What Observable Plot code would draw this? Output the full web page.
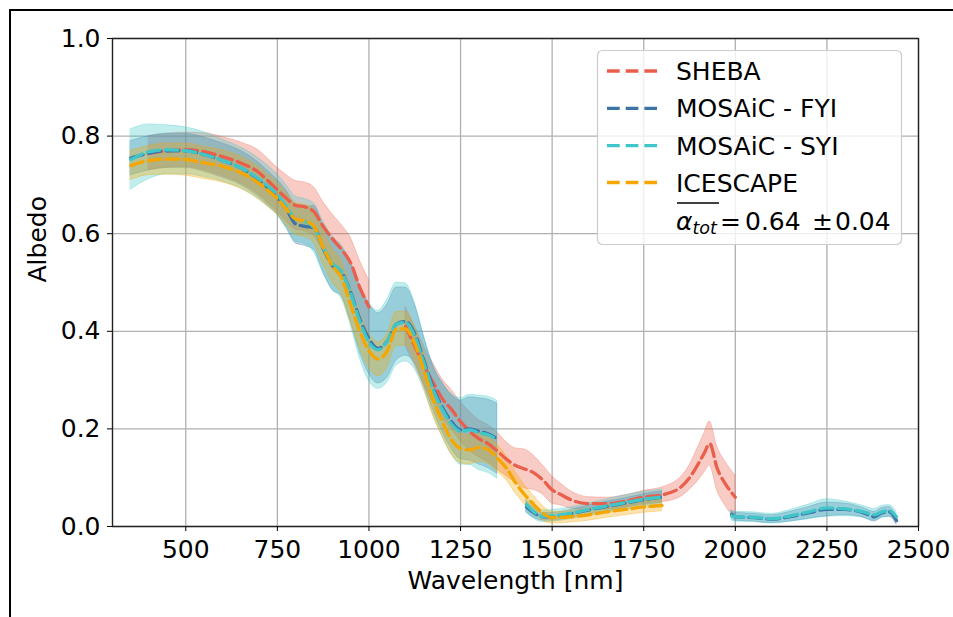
<!DOCTYPE html>
<html><head><meta charset="utf-8">
<script src="https://cdn.jsdelivr.net/npm/d3@7"></script>
<script src="https://cdn.jsdelivr.net/npm/@observablehq/plot@0.6"></script>
<style>
body{margin:0;background:#fff;font-family:"DejaVu Sans",sans-serif;}
#wrap{position:relative;width:953px;height:617px;overflow:hidden;background:#fff;}
#border{position:absolute;left:9px;top:9px;right:-5px;bottom:-5px;border-top:2px solid #000;border-left:2px solid #000;pointer-events:none;}
#legend{position:absolute;left:0;top:0;pointer-events:none;}
</style></head><body>
<div id="wrap"><div id="chart"></div><svg id="legend" width="953" height="617"></svg><div id="border"></div></div>
<script>
// ---- data ----
const xTicks = [500, 750, 1000, 1250, 1500, 1750, 2000, 2250, 2500];
const yTicks = [0, 0.2, 0.4, 0.6, 0.8, 1.0];
const seriesNames = ["SHEBA", "MOSAiC - FYI", "MOSAiC - SYI", "ICESCAPE"];
const seriesColors = ["#ea5f4c", "#3d74a8", "#40c6c8", "#f6a600"];

const shebaWl   = [400,450,500,550,600,650,700,725,750,775,800,825,850,875,900,925,950,975,1000,1050,1100,1125,1150,1175,1200,1225,1250,1275,1300,1325,1350,1375,1400,1425,1450,1475,1500,1525,1550,1600,1650,1700,1750,1800,1825,1850,1875,1900,1915,1930,1950,1975,2000];
const shebaMean = [0.765,0.77,0.772,0.768,0.758,0.745,0.725,0.708,0.69,0.672,0.658,0.655,0.645,0.615,0.59,0.568,0.54,0.49,0.45,null,0.41,0.37,0.33,0.295,0.262,0.24,0.215,0.195,0.18,0.17,0.155,0.138,0.125,0.118,0.11,0.095,0.075,0.065,0.055,0.047,0.047,0.052,0.06,0.065,0.07,0.08,0.1,0.13,0.15,0.17,0.12,0.085,0.06];
const shebaErr  = [0.035,0.035,0.035,0.038,0.04,0.042,0.045,0.045,0.045,0.048,0.05,0.05,0.05,0.05,0.05,0.05,0.052,0.055,0.055,null,0.04,0.04,0.04,0.04,0.04,0.04,0.04,0.04,0.038,0.038,0.038,0.035,0.035,0.04,0.035,0.03,0.028,0.022,0.018,0.013,0.012,0.012,0.013,0.015,0.017,0.02,0.025,0.035,0.04,0.045,0.045,0.045,0.045];

const mosaicWl = [350,400,450,500,550,600,650,700,725,750,775,800,825,850,875,900,925,950,975,1000,1025,1050,1075,1100,1125,1150,1175,1200,1225,1250,1275,1300,1325,1350,1390,1430,1450,1475,1500,1550,1600,1650,1700,1750,1800,1900,1990,2000,2050,2100,2150,2200,2250,2300,2350,2380,2400,2420,2440];
const fyiMean = [0.755,0.765,0.77,0.77,0.762,0.75,0.735,0.71,0.693,0.675,0.65,0.62,0.615,0.612,0.57,0.535,0.522,0.48,0.425,0.385,0.365,0.38,0.415,0.42,0.395,0.34,0.285,0.245,0.215,0.198,0.2,0.195,0.19,0.18,null,0.04,0.028,0.02,0.02,0.026,0.034,0.041,0.048,0.055,0.06,null,0.025,0.02,0.018,0.015,0.02,0.028,0.035,0.035,0.028,0.02,0.028,0.03,0.012];
const fyiErr  = [0.035,0.035,0.035,0.035,0.035,0.035,0.035,0.035,0.035,0.035,0.038,0.04,0.04,0.045,0.048,0.05,0.05,0.06,0.068,0.072,0.072,0.075,0.075,0.07,0.06,0.05,0.045,0.05,0.055,0.06,0.065,0.068,0.07,0.072,null,0.012,0.01,0.008,0.008,0.008,0.009,0.01,0.01,0.011,0.012,null,0.008,0.008,0.008,0.008,0.01,0.012,0.014,0.012,0.01,0.01,0.01,0.01,0.008];
const syiMean = [0.752,0.768,0.772,0.77,0.762,0.75,0.735,0.712,0.697,0.68,0.655,0.63,0.625,0.612,0.572,0.54,0.522,0.478,0.42,0.378,0.362,0.38,0.415,0.418,0.39,0.335,0.28,0.24,0.21,0.195,0.198,0.192,0.188,0.178,null,0.045,0.03,0.021,0.022,0.027,0.035,0.042,0.049,0.056,0.06,null,0.022,0.02,0.019,0.016,0.022,0.03,0.038,0.036,0.03,0.024,0.03,0.032,0.02];
const syiErr  = [0.062,0.056,0.05,0.048,0.046,0.043,0.042,0.042,0.042,0.042,0.044,0.046,0.046,0.05,0.053,0.055,0.055,0.065,0.075,0.08,0.08,0.085,0.085,0.08,0.068,0.055,0.05,0.055,0.062,0.068,0.072,0.076,0.078,0.08,null,0.016,0.014,0.012,0.012,0.012,0.013,0.014,0.015,0.015,0.016,null,0.01,0.01,0.01,0.01,0.012,0.015,0.018,0.015,0.012,0.012,0.012,0.012,0.01];

const icescapeWl   = [350,400,450,500,550,600,650,700,725,750,775,800,825,850,875,900,925,950,975,1000,1025,1050,1075,1100,1125,1150,1175,1200,1225,1250,1275,1300,1325,1350,1375,1400,1425,1450,1475,1500,1550,1600,1650,1700,1750,1800];
const icescapeMean = [0.74,0.75,0.753,0.752,0.745,0.738,0.725,0.703,0.688,0.672,0.65,0.63,0.626,0.615,0.572,0.535,0.51,0.455,0.4,0.36,0.343,0.36,0.405,0.405,0.375,0.32,0.26,0.215,0.178,0.16,0.157,0.162,0.158,0.14,0.12,0.09,0.065,0.045,0.027,0.018,0.02,0.024,0.03,0.035,0.04,0.043];
const icescapeErr  = [0.03,0.03,0.032,0.033,0.033,0.033,0.033,0.033,0.033,0.033,0.033,0.033,0.033,0.035,0.035,0.035,0.035,0.035,0.035,0.035,0.035,0.035,0.035,0.035,0.035,0.035,0.033,0.03,0.03,0.03,0.03,0.03,0.03,0.028,0.025,0.022,0.02,0.018,0.015,0.012,0.012,0.012,0.012,0.012,0.012,0.012];

const legendFormula = {sym: "α", sub: "tot", parts: ["=", "0.64", "±", "0.04"]};

// ---- build ----
function rows(wl, mean, err) {
  return wl.map((w, i) => {
    const m = mean[i];
    const ok = m != null;
    return {x: w, y: ok ? m : NaN, lo: ok ? m - err[i] : NaN, hi: ok ? m + err[i] : NaN};
  });
}
const data = [
  rows(shebaWl, shebaMean, shebaErr),
  rows(mosaicWl, fyiMean, fyiErr),
  rows(mosaicWl, syiMean, syiErr),
  rows(icescapeWl, icescapeMean, icescapeErr)
];

const bands = data.map((d, i) => Plot.areaY(d, {x: "x", y1: "lo", y2: "hi", fill: seriesColors[i], fillOpacity: 0.32, stroke: seriesColors[i], strokeOpacity: 0.3, strokeWidth: 1, curve: "monotone-x"}));
const lines = data.map((d, i) => Plot.lineY(d, {x: "x", y: "y", stroke: seriesColors[i], strokeWidth: 3.3, strokeDasharray: "12.6,5.4", curve: "monotone-x"}));

const chart = Plot.plot({
  width: 953, height: 617,
  marginLeft: 112, marginRight: 35, marginTop: 38, marginBottom: 91,
  style: {fontSize: "25px", fontFamily: "DejaVu Sans", color: "black", background: "transparent"},
  x: {domain: [300, 2500]},
  y: {domain: [0, 1]},
  marks: [
    Plot.gridX({ticks: xTicks, stroke: "#b0b0b0", strokeOpacity: 1, strokeWidth: 1.3}),
    Plot.gridY({ticks: yTicks, stroke: "#b0b0b0", strokeOpacity: 1, strokeWidth: 1.3}),
    ...bands,
    ...lines,
    Plot.frame({stroke: "#222", strokeWidth: 1.4}),
    Plot.axisX({ticks: xTicks, tickFormat: d => String(d), tickSize: 5, tickPadding: 9, label: null, fontSize: 25}),
    Plot.axisY({ticks: yTicks, tickFormat: d3.format(".1f"), tickSize: 5, tickPadding: 7, label: null, fontSize: 25}),
    Plot.text(["Wavelength [nm]"], {text: d => d, frameAnchor: "bottom", lineAnchor: "bottom", dy: 62, fontSize: 25, fill: "black"}),
    Plot.text(["Albedo"], {text: d => d, frameAnchor: "left", dx: -75, rotate: -90, fontSize: 25, fill: "black"})
  ]
});
document.getElementById("chart").appendChild(chart);

// ---- legend (inside plot, upper right) ----
const L = d3.select("#legend");
L.append("rect").attr("x", 597.5).attr("y", 50.5).attr("width", 304).attr("height", 194).attr("rx", 5)
  .attr("fill", "white").attr("fill-opacity", 0.8).attr("stroke", "#cccccc").attr("stroke-width", 1.2);
const rowBase = [80, 117.3, 154.6, 191.5];
seriesNames.forEach((name, i) => {
  const cy = rowBase[i] - 9;
  L.append("line").attr("x1", 607).attr("x2", 657).attr("y1", cy).attr("y2", cy)
    .attr("stroke", seriesColors[i]).attr("stroke-width", 3.3).attr("stroke-dasharray", "12.7,6");
  L.append("text").attr("x", 676).attr("y", rowBase[i]).attr("font-size", 25)
    .attr("font-family", "DejaVu Sans").attr("fill", "black").text(name);
});
const fy = 229.5;
const ft = L.append("text").attr("x", 676).attr("y", fy).attr("font-size", 25).attr("font-family", "DejaVu Sans").attr("fill", "black");
ft.append("tspan").attr("font-style", "italic").text(legendFormula.sym);
ft.append("tspan").attr("font-style", "italic").attr("font-size", 17.5).attr("dy", 4).text(legendFormula.sub);
L.append("line").attr("x1", 677).attr("x2", 719).attr("y1", 203).attr("y2", 203).attr("stroke", "black").attr("stroke-width", 1.5);
const px = [720, 745, 812, 835];
legendFormula.parts.forEach((p, i) => {
  L.append("text").attr("x", px[i]).attr("y", fy).attr("font-size", 25).attr("font-family", "DejaVu Sans").attr("fill", "black").text(p);
});
</script>
</body></html>
